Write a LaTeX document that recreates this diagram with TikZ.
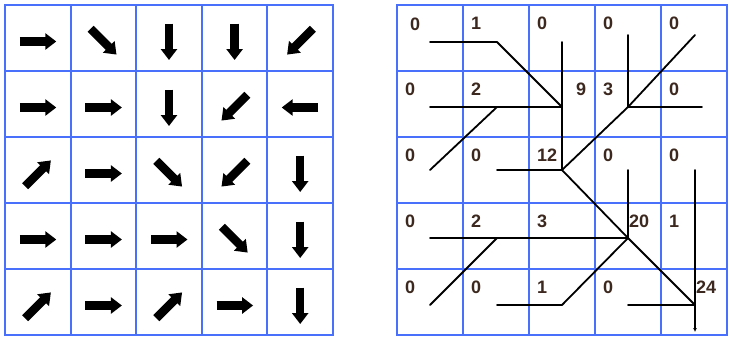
\documentclass[tikz,border=0pt]{standalone}
\usepackage{fontspec}
\setmainfont{Liberation Sans}
\usepackage{tikz}
\usetikzlibrary{arrows.meta}

\definecolor{gridblue}{RGB}{72,112,250}
\definecolor{numtext}{RGB}{60,40,30}

\begin{document}
\begin{tikzpicture}[x=1pt, y=-1pt,
    gridline/.style={draw=gridblue, line width=2pt, line cap=rect},
    dirarrow/.style={line width=8.5pt, -{Triangle[length=11pt, width=16pt]}},
    accnum/.style={anchor=west, inner sep=0pt, text=numtext, font=\fontsize{18}{18}\selectfont\bfseries},
    flowline/.style={line width=1.8pt, line cap=round, line join=round}]
  \useasboundingbox (0,0) rectangle (729,338);

  % Left grid: flow directions
  \foreach \i in {0,...,5} {
    \draw[gridline] ({5+65.6*\i},5) -- ({5+65.6*\i},335);
    \draw[gridline] (5,{5+66*\i}) -- (333,{5+66*\i});
  }
  \foreach \r/\c/\dx/\dy in {0/0/1/0, 0/1/1/1, 0/2/0/1, 0/3/0/1, 0/4/-1/1,
      1/0/1/0, 1/1/1/0, 1/2/0/1, 1/3/-1/1, 1/4/-1/0,
      2/0/1/-1, 2/1/1/0, 2/2/1/1, 2/3/-1/1, 2/4/0/1,
      3/0/1/0, 3/1/1/0, 3/2/1/0, 3/3/1/1, 3/4/0/1,
      4/0/1/-1, 4/1/1/0, 4/2/1/-1, 4/3/1/0, 4/4/0/1} {
    \pgfmathsetmacro{\len}{((\dx)*(\dy)==0) ? 1 : 0.7071}
    \draw[dirarrow] ({37.8+65.6*\c-18*\len*(\dx)},{41.5+66*\r-18*\len*(\dy)})
      -- ({37.8+65.6*\c+18.5*\len*(\dx)},{41.5+66*\r+18.5*\len*(\dy)});
  }

  % Right grid: flow accumulation
  \foreach \i in {0,...,5} {
    \draw[gridline] ({397+66*\i},5) -- ({397+66*\i},335);
    \draw[gridline] (397,{5+66*\i}) -- (727,{5+66*\i});
  }

  % Cell junctions
  \foreach \c/\x in {0/430, 1/497, 2/562, 3/628, 4/695}
    \foreach \r/\y in {0/42, 1/107, 2/170, 3/238, 4/305}
      \coordinate (p-\r-\c) at (\x,\y);
  \coordinate (p-0-3) at (628,35);
  \coordinate (p-0-4) at (695,35);
  \coordinate (p-1-4) at (702,107);
  \coordinate (outlet) at (695,332);

  % Accumulation values
  \foreach \r/\c/\v in {0/1/1, 0/2/0, 0/3/0, 0/4/0,
      1/0/0, 1/1/2, 1/3/3, 1/4/0,
      2/0/0, 2/1/0, 2/2/12, 2/3/0, 2/4/0,
      3/0/0, 3/1/2, 3/2/3, 3/4/1,
      4/0/0, 4/1/0, 4/2/1, 4/3/0}
    \node[accnum] (v-\r-\c) at ({405+66*\c},{23.5+66*\r}) {\v};
  \node[accnum] (v-0-0) at (410,24.5) {0};
  \node[accnum] (v-1-2) at (576,89.5) {9};
  \node[accnum] (v-3-3) at (629,221.5) {20};
  \node[accnum] (v-4-4) at (696,287.5) {24};

  % Drainage tree
  \foreach \a/\b in {0-0/0-1, 0-1/1-2, 0-2/1-2, 0-3/1-3, 0-4/1-3,
      1-0/1-1, 1-1/1-2, 2-0/1-1, 1-4/1-3, 1-2/2-2, 1-3/2-2,
      2-1/2-2, 2-2/3-3, 2-3/3-3, 2-4/3-4,
      3-0/3-1, 4-0/3-1, 3-1/3-2, 3-2/3-3, 3-3/4-4, 3-4/4-4,
      4-1/4-2, 4-2/3-3, 4-3/4-4}
    \draw[flowline] (p-\a) -- (p-\b);
  \draw[flowline, -{Latex[length=4pt, width=4pt]}] (p-4-4) -- (outlet);
\end{tikzpicture}
\end{document}
